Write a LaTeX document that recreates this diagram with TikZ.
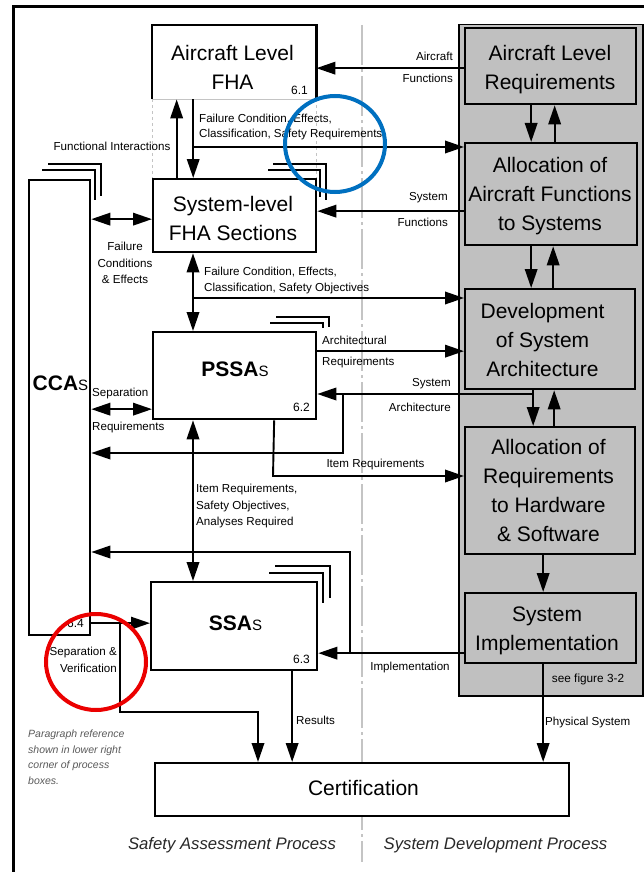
\documentclass[tikz,border=0pt]{standalone}
\usepackage{fontspec}
\setmainfont{Liberation Sans}
\usetikzlibrary{arrows.meta,calc}
\definecolor{panelgray}{RGB}{192,192,192}
\definecolor{guide}{RGB}{196,196,196}
\definecolor{ringblue}{RGB}{0,112,192}
\definecolor{ringred}{RGB}{235,0,0}
\definecolor{notegray}{RGB}{90,90,90}
\definecolor{lanetext}{RGB}{40,40,40}
\begin{document}
\begin{tikzpicture}[x=1pt,y=-1pt,
  >={Triangle[length=19pt,width=12.5pt]},
  box/.style={draw, line width=2.3pt, fill=white, inner sep=0pt, anchor=north west},
  gbox/.style={draw, line width=2.3pt, fill=panelgray, inner sep=0pt, anchor=north west},
  big/.style={font=\fontsize{21}{29}\selectfont, align=center, inner sep=0pt},
  lbl/.style={font=\fontsize{11.6}{16.5}\selectfont, inner sep=0pt},
  num/.style={font=\fontsize{12}{14}\selectfont, inner sep=0pt},
  note/.style={font=\fontsize{10.5}{15.5}\selectfont\itshape, text=notegray, align=left, inner sep=0pt},
  lane/.style={font=\fontsize{16.7}{20}\selectfont\itshape, text=lanetext, inner sep=0pt},
  wire/.style={line width=1.9pt},
  conn/.style={line width=1.9pt, ->},
  bi/.style={line width=1.9pt, <->},
  stack/.style={line width=1.5pt},
  ring/.style={line width=4pt}]

\useasboundingbox (0,0) rectangle (644,872);
\fill[white] (0,0) rectangle (644,872);

% outer frame
\draw[line width=3pt] (13,872) -- (13,7) -- (644,7);

% lane divider
\draw[guide, line width=1.2pt, dash pattern=on 40pt off 4pt on 3pt off 4pt] (362,25) -- (362,862);

% system development panel
\node[draw, line width=1.5pt, fill=panelgray, minimum width=184pt, minimum height=671pt,
      inner sep=0pt, anchor=north west] (panel) at (458,24) {};

% ---------- safety assessment boxes ----------
\node[inner sep=0pt, minimum width=164pt, minimum height=74pt, anchor=north west, fill=white] (afha) at (152,25) {};
\draw[guide, line width=1.2pt] (afha.south west) -- (afha.south east);
\draw[line width=2.3pt] (afha.south west) -- (afha.north west) -- (afha.north east) -- (afha.south east);
\draw[guide, line width=1pt, dashed] (afha.south west) -- ++(0,79);
\draw[guide, line width=1pt, dashed] (afha.south east) -- ++(0,79);

% stacked sheets behind the boxes
\draw[stack] (268,170) -- (320,170) -- (320,197);
\draw[stack] (273,164) -- (326,164) -- (326,200);
\draw[stack] (270,323) -- (323,323) -- (323,328);
\draw[stack] (276,317) -- (329,317) -- (329,327);
\draw[stack] (269,573) -- (323,573) -- (323,603);
\draw[stack] (275,566) -- (330,566) -- (330,598);
\draw[stack] (42,170) -- (95,170) -- (95,200);
\draw[stack] (48,164) -- (101,164) -- (101,196);

\node[box, minimum width=163pt, minimum height=73pt] (sfha) at (152,178) {};
\node[box, minimum width=163pt, minimum height=87pt] (pssa) at (152,331) {};
\node[box, minimum width=166pt, minimum height=88pt] (ssa) at (150,581) {};
\node[box, minimum width=61pt, minimum height=455pt] (cca) at (28,179) {};
\node[box, minimum width=414pt, minimum height=53pt] (cert) at (154,762) {};

% ---------- development boxes ----------
\node[gbox, minimum width=171pt, minimum height=76pt] (alr) at (464,27) {};
\node[gbox, minimum width=172pt, minimum height=102pt] (aafs) at (464,142) {};
\node[gbox, minimum width=170pt, minimum height=100pt] (dsa) at (464,288) {};
\node[gbox, minimum width=170pt, minimum height=127pt] (arhs) at (464,426) {};
\node[gbox, minimum width=171pt, minimum height=70pt] (si) at (464,592) {};

% ---------- box titles ----------
\node[big] (afhaT) at (232.5,67.5) {Aircraft Level\\FHA};
\node[big] (sfhaT) at (233,218) {System-level\\FHA Sections};
\node[big] (pssaT) at (235,369) {\bfseries PSSA{\fontsize{15}{15}\selectfont\mdseries S}};
\node[big] (ssaT) at (235.5,623) {\bfseries SSA{\fontsize{15}{15}\selectfont\mdseries S}};
\node[big] (ccaT) at (60.5,383) {\bfseries CCA{\fontsize{15}{15}\selectfont\mdseries S}};
\node[big] (certT) at (363.5,787.5) {Certification};
\node[big] (alrT) at (550,70) {Aircraft Level\\Requirements};
\node[big] (aafsT) at (550,196.5) {Allocation of\\Aircraft Functions\\to Systems};
\node[big] (dsaT) at (542.5,340) {Development\\of System\\Architecture};
\node[big] (arhsT) at (548.5,490) {Allocation of\\Requirements\\to Hardware\\\& Software};
\node[big] (siT) at (547,631) {System\\Implementation};

% paragraph numbers
\node[num, anchor=east] (n61) at (308,90) {6.1};
\node[num, anchor=east] (n62) at (310,407) {6.2};
\node[num, anchor=east] (n63) at (310,659) {6.3};
\node[num, anchor=east] (n64) at (84,623) {6.4};
\node[num, font=\fontsize{11.8}{14}\selectfont] (seefig) at (588,679) {see figure 3-2};

% ---------- connectors ----------
% aircraft level
\coordinate (aF) at ([yshift=-2pt]alr.west);
\draw[conn] (aF) -- (aF -| afha.east);
\coordinate (j1) at ([xshift=-41pt]afha.south |- 0,147);
\draw[wire] ([xshift=-41pt]afha.south) -- (j1);
\draw[conn] (j1) -- (j1 |- sfha.north);
\draw[conn] (j1) -- (j1 -| aafs.west);
\coordinate (fi) at ([xshift=-58pt]sfha.north);
\draw[conn] (fi) -- (fi |- afha.south);

% system level
\coordinate (sF) at ([yshift=-17pt]aafs.west);
\draw[conn] (sF) -- (sF -| sfha.east);
\coordinate (fce) at ([yshift=-3.5pt]sfha.west);
\draw[bi] (fce -| cca.east) -- (fce);
\coordinate (j2) at (193,298);
\draw[bi] (j2 |- sfha.south) -- (j2 |- pssa.north);
\draw[conn] (j2) -- (j2 -| dsa.west);

% preliminary assessment
\coordinate (arq) at ([yshift=24.5pt]pssa.east);
\draw[conn] (arq) -- (arq -| dsa.west);
\coordinate (sa) at (532,394);
\draw[conn] (sa) -- (sa -| pssa.east);
\coordinate (sab) at (343,394);
\coordinate (sad) at (343,453);
\draw[conn] (sab) -- (sad) -- (sad -| cca.east);
\coordinate (ir0) at ([xshift=39.5pt]pssa.south);
\coordinate (ir1) at (273,476);
\draw[conn] (ir0) -- (ir1) -- (ir1 -| arhs.west);
\coordinate (sr) at ([yshift=-33.5pt]pssa.west);
\draw[bi] (sr -| cca.east) -- (sr);
\draw[bi] (j2 |- pssa.south) -- (j2 |- ssa.north);

% system assessment
\coordinate (im) at ([yshift=-25pt]si.west);
\draw[conn] (im) -- (im -| ssa.east);
\coordinate (im1) at (350,652);
\coordinate (im2) at (350,552);
\draw[conn] (im1) -- (im2) -- (im2 -| cca.east);
\coordinate (sv) at ([yshift=3pt]ssa.west);
\draw[conn] (sv -| cca.east) -- (sv);
\coordinate (sv1) at (120,622);
\coordinate (sv2) at (120,712);
\coordinate (sv3) at (258,712);
\draw[conn] (sv1) -- (sv2) -- (sv3) -- (sv3 |- cert.north);
\coordinate (rs) at ([xshift=58pt]ssa.south);
\draw[conn] (rs) -- (rs |- cert.north);

% development flow
\coordinate (d1) at ([xshift=-19.5pt]alr.south);
\draw[conn] (d1) -- (d1 |- aafs.north);
\coordinate (u1) at ([xshift=3.5pt]aafs.north);
\draw[conn] (u1) -- (u1 |- alr.south);
\coordinate (d2) at ([xshift=-20pt]aafs.south);
\draw[conn] (d2) -- (d2 |- dsa.north);
\coordinate (u2) at ([xshift=3pt]dsa.north);
\draw[conn] (u2) -- (u2 |- aafs.south);
\coordinate (d3) at ([xshift=-17pt]dsa.south);
\draw[conn] (d3) -- (d3 |- arhs.north);
\coordinate (u3) at ([xshift=4pt]arhs.north);
\draw[conn] (u3) -- (u3 |- dsa.south);
\coordinate (d4) at ([xshift=-7pt]arhs.south);
\draw[conn] (d4) -- (d4 |- si.north);
\coordinate (ps) at ([xshift=-7.5pt]si.south);
\draw[conn] (ps) -- (ps |- cert.north);

% ---------- connector labels ----------
\node[lbl, anchor=east] (l1) at (453,56) {Aircraft};
\node[lbl, anchor=east] (l2) at (453,78) {Functions};
\node[lbl, anchor=west] (l3) at (199,119) {Failure Condition, Effects,};
\node[lbl, anchor=west] (l4) at (199,135) {Classification, Safety Requirements};
\node[lbl] (l5) at (112,146) {Functional Interactions};
\node[lbl, anchor=east] (l6) at (448,198) {System};
\node[lbl, anchor=east] (l7) at (448,222) {Functions};
\node[lbl, align=center] (l8) at (125,263) {Failure\\Conditions\\\& Effects};
\node[lbl, anchor=west] (l9) at (204,272) {Failure Condition, Effects,};
\node[lbl, anchor=west] (l10) at (204,288) {Classification, Safety Objectives};
\node[lbl, anchor=west] (l11) at (322,340) {Architectural};
\node[lbl, anchor=west] (l12) at (322,362) {Requirements};
\node[lbl, anchor=east] (l13) at (451,384) {System};
\node[lbl, anchor=east] (l14) at (451,407) {Architecture};
\node[lbl] (l15) at (375.5,464) {Item Requirements};
\node[lbl, anchor=west] (l16) at (92,393) {Separation};
\node[lbl, anchor=west] (l17) at (92,427) {Requirements};
\node[lbl, anchor=west, align=left] (l18) at (196,506) {Item Requirements,\\Safety Objectives,\\Analyses Required};
\node[lbl] (l19) at (410,667) {Implementation};
\node[lbl, anchor=west] (l20) at (296,720) {Results};
\node[lbl, anchor=east, align=right] (l21) at (117,660) {Separation \&\\Verification};
\node[lbl, anchor=west] (l22) at (545,722) {Physical System};

\node[note, anchor=west] (para) at (28,757) {Paragraph reference\\shown in lower right\\corner of process\\boxes.};
\node[lane] (laneA) at (232,845) {Safety Assessment Process};
\node[lane] (laneB) at (495.5,845) {System Development Process};

% highlight rings
\draw[ring, ringblue] (335,144) ellipse [x radius=50, y radius=48];
\draw[ring, ringred] (96,662) ellipse [x radius=50, y radius=48];
\end{tikzpicture}
\end{document}
